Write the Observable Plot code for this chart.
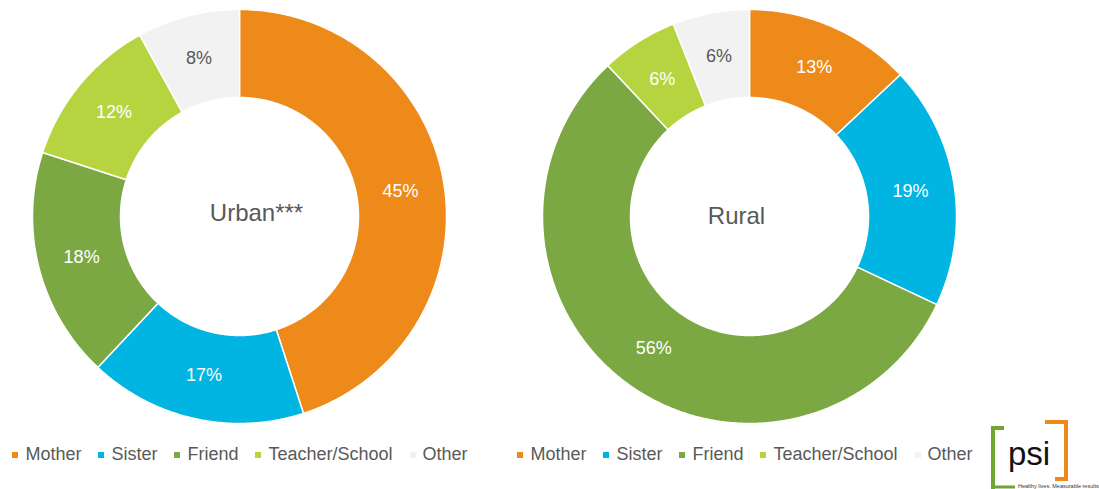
<!DOCTYPE html>
<html>
<head>
<meta charset="utf-8">
<script src="https://cdn.jsdelivr.net/npm/d3@7"></script>
<script src="https://cdn.jsdelivr.net/npm/@observablehq/plot@0.6"></script>
<style>
  html, body { margin: 0; padding: 0; background: #fff; }
  body { font-family: "Liberation Sans", Arial, sans-serif; }
  #root { position: relative; width: 1099px; height: 489px; overflow: hidden; background: #fff; }
  .chart { position: absolute; top: 0; }
  .legendbox { position: absolute; top: 438px; width: 520px; display: flex; justify-content: center; }
  .lg-swatch { margin-right: 17px !important; }
  .lg-swatch:last-child { margin-right: 0 !important; }
  .lg-swatch > svg { margin-right: 7px !important; }
  .logo { position: absolute; left: 985px; top: 415px; }
</style>
</head>
<body>
<div id="root"></div>
<script>
// ---- data ----
const categories = ["Mother", "Sister", "Friend", "Teacher/School", "Other"];
const colors = ["#EE8A1A", "#00B5E1", "#7BA843", "#B6D43F", "#F2F2F2"];
const urbanValues = [45, 17, 18, 12, 8];
const ruralValues = [13, 19, 56, 6, 6];
const panelTitles = ["Urban***", "Rural"];

// ---- layout constants (not data) ----
const W = 440, H = 432;          // svg size per donut
const R = 207, r0 = 119;         // outer / inner radius (px units of the scales)
const panels = [
  {values: urbanValues, title: panelTitles[0], cx: 239, titleDx: 17, titleDy: -3, legendCx: 240},
  {values: ruralValues, title: panelTitles[1], cx: 749, titleDx: -13, titleDy: 0, legendCx: 745}
];

const root = document.getElementById("root");

function donut(values, title, titleDx, titleDy) {
  const arcs = d3.pie().sort(null)(values);
  const step = Math.PI / 360;
  const pts = [];
  const labels = [];
  arcs.forEach((a, i) => {
    const cat = categories[i];
    const n = Math.max(2, Math.ceil((a.endAngle - a.startAngle) / step));
    for (let k = 0; k <= n; k++) {
      const t = a.startAngle + (a.endAngle - a.startAngle) * k / n;
      pts.push({category: cat, x: R * Math.sin(t), y: R * Math.cos(t)});
    }
    for (let k = n; k >= 0; k--) {
      const t = a.startAngle + (a.endAngle - a.startAngle) * k / n;
      pts.push({category: cat, x: r0 * Math.sin(t), y: r0 * Math.cos(t)});
    }
    const m = (a.startAngle + a.endAngle) / 2, rm = (R + r0) / 2;
    labels.push({category: cat, value: values[i], x: rm * Math.sin(m), y: rm * Math.cos(m)});
  });

  return Plot.plot({
    width: W,
    height: H,
    margin: 0,
    style: {background: "transparent", fontFamily: "Liberation Sans, Arial, sans-serif", overflow: "visible"},
    x: {domain: [-W / 2, W / 2], axis: null},
    y: {domain: [-H / 2, H / 2], axis: null},
    color: {domain: categories, range: colors},
    marks: [
      Plot.line(pts, {
        x: "x", y: "y", z: "category", fill: "category",
        stroke: "white", strokeWidth: 1.5, strokeLinejoin: "round",
        curve: "linear-closed"
      }),
      Plot.text(labels, {
        filter: d => d.category !== "Other",
        x: "x", y: "y", text: d => d.value + "%",
        fill: "white", fontSize: 18
      }),
      Plot.text(labels, {
        filter: d => d.category === "Other",
        x: "x", y: "y", text: d => d.value + "%",
        fill: "#595959", fontSize: 18
      }),
      Plot.text([title], {
        frameAnchor: "middle", text: d => d,
        fill: "#595959", fontSize: 24, dx: titleDx, dy: titleDy
      })
    ]
  });
}

panels.forEach(p => {
  const holder = document.createElement("div");
  holder.className = "chart";
  holder.style.left = (p.cx - W / 2) + "px";
  holder.appendChild(donut(p.values, p.title, p.titleDx, p.titleDy));
  root.appendChild(holder);

  const lb = document.createElement("div");
  lb.className = "legendbox";
  lb.style.left = (p.legendCx - 260) + "px";
  lb.appendChild(Plot.legend({
    color: {type: "categorical", domain: categories, range: colors},
    legend: "swatches",
    swatchSize: 6,
    className: "lg",
    style: {fontSize: "18px", fontFamily: "Liberation Sans, Arial, sans-serif", color: "#595959", background: "transparent"}
  }));
  root.appendChild(lb);
});

// PSI logo (decoration)
const logo = document.createElement("div");
logo.className = "logo";
logo.innerHTML = `
<svg width="114" height="74" viewBox="0 0 114 74" xmlns="http://www.w3.org/2000/svg">
  <path d="M19 13 H8 V74" fill="none" stroke="#6EA62E" stroke-width="4"/>
  <path d="M8 72 H30" fill="none" stroke="#6EA62E" stroke-width="3"/>
  <path d="M60 7 H81 V64 H70" fill="none" stroke="#EE8A1A" stroke-width="4"/>
  <text x="44" y="50" text-anchor="middle" font-family="Liberation Sans, Arial, sans-serif" font-size="33" fill="#111">psi</text>
  <text x="33" y="73" font-family="Liberation Sans, Arial, sans-serif" font-size="5.5" fill="#333">Healthy lives. Measurable results.</text>
</svg>`;
root.appendChild(logo);
</script>
</body>
</html>
